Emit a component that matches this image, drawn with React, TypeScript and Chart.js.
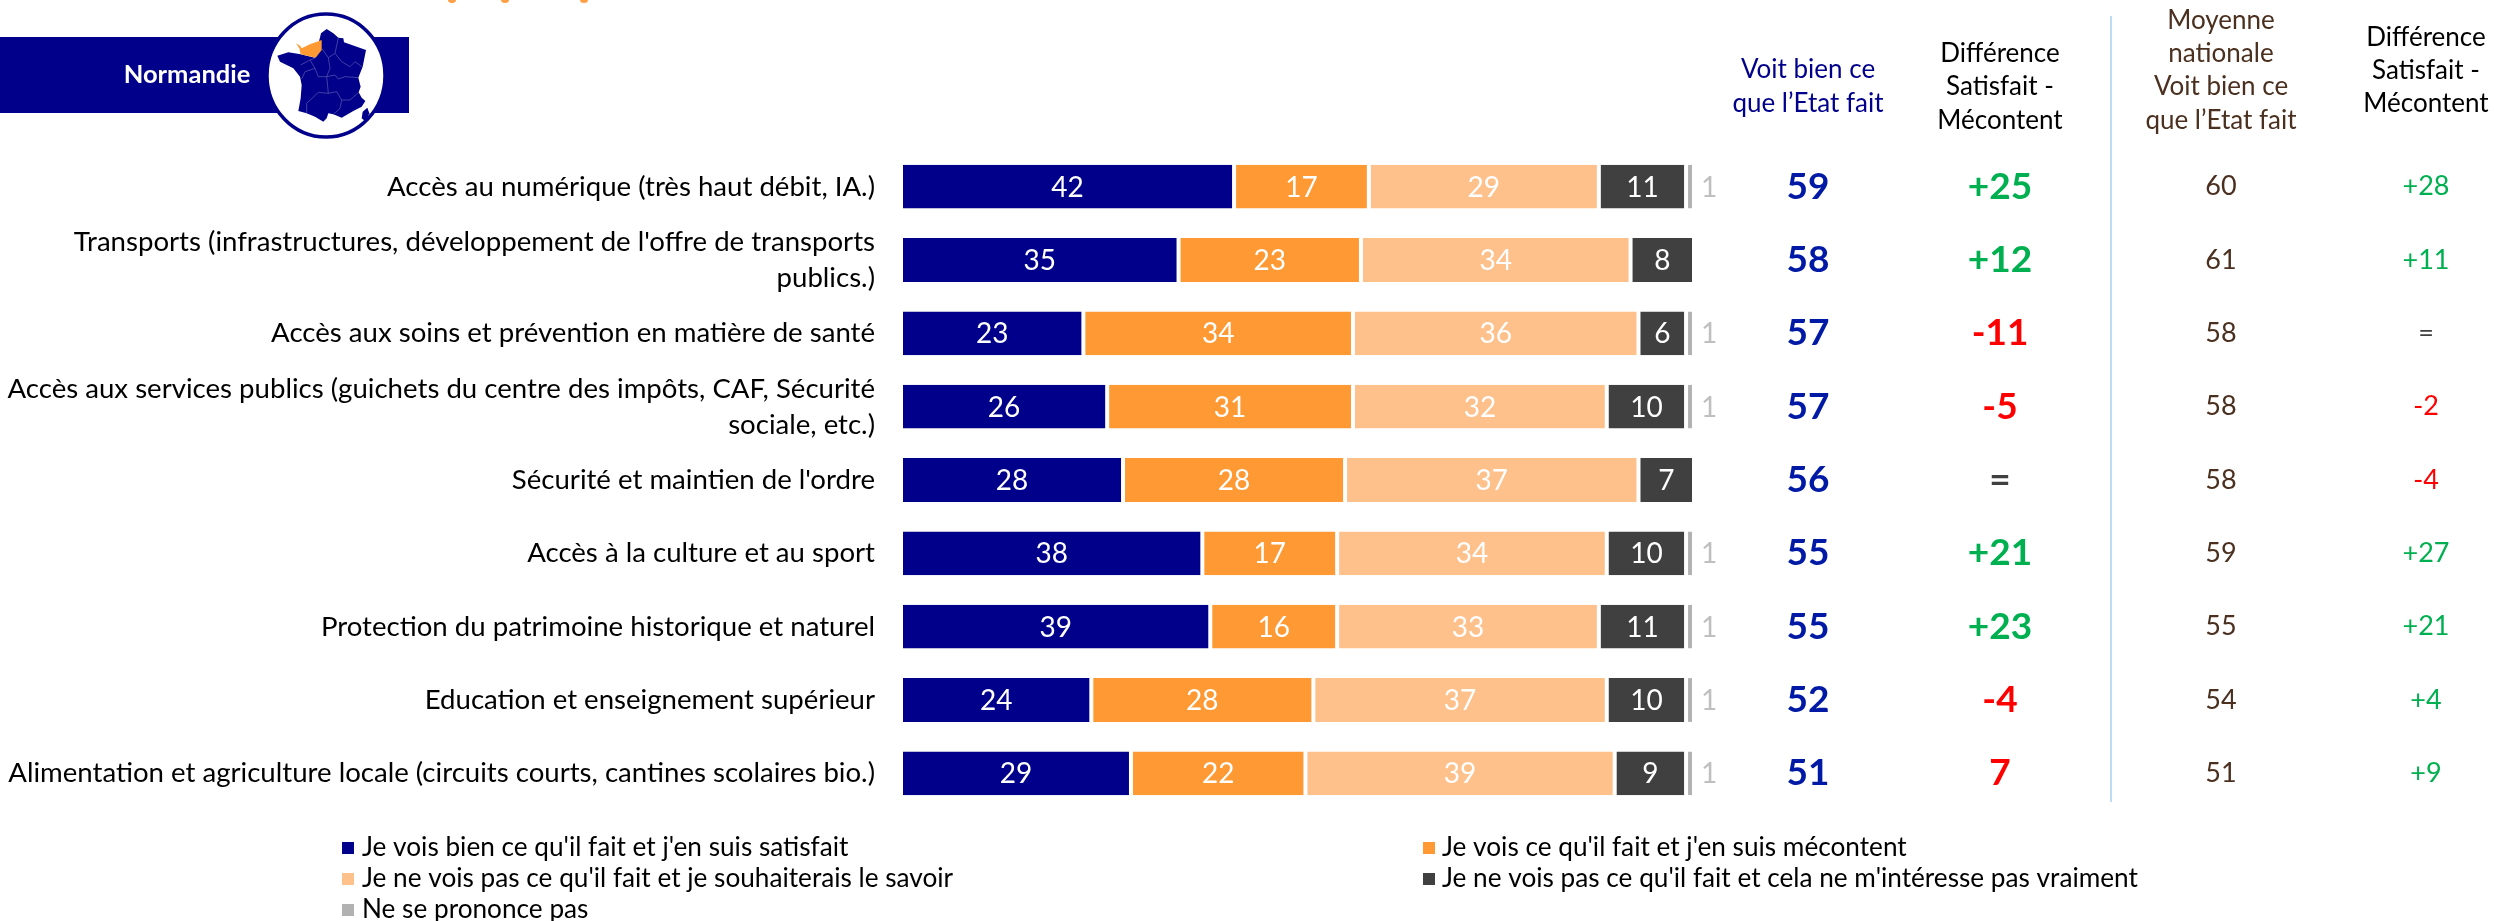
import React, { useEffect, useRef } from "react";
import { Chart, registerables } from "chart.js";

Chart.register(...registerables);

const FONT = "Lato, Carlito, sans-serif";

const categories: (string | string[])[] = [
  "Accès au numérique (très haut débit, IA.)",
  ["Transports (infrastructures, développement de l'offre de transports", "publics.)"],
  "Accès aux soins et prévention en matière de santé",
  ["Accès aux services publics (guichets du centre des impôts, CAF, Sécurité", "sociale, etc.)"],
  "Sécurité et maintien de l'ordre",
  "Accès à la culture et au sport",
  "Protection du patrimoine historique et naturel",
  "Education et enseignement supérieur",
  "Alimentation et agriculture locale (circuits courts, cantines scolaires bio.)",
];

const satisfied = [42, 35, 23, 26, 28, 38, 39, 24, 29];
const unhappy = [17, 23, 34, 31, 28, 17, 16, 28, 22];
const wantToKnow = [29, 34, 36, 32, 37, 34, 33, 37, 39];
const notInterested = [11, 8, 6, 10, 7, 10, 11, 10, 9];
const noOpinion = [1, null, 1, 1, null, 1, 1, 1, 1];

const seesWell = ["59", "58", "57", "57", "56", "55", "55", "52", "51"];
const difference = ["+25", "+12", "-11", "-5", "=", "+21", "+23", "-4", "7"];
const nationalSees = ["60", "61", "58", "58", "58", "59", "55", "54", "51"];
const nationalDiff = ["+28", "+11", "=", "-2", "-4", "+27", "+21", "+4", "+9"];

const seriesNames = [
  "Je vois bien ce qu'il fait et j'en suis satisfait",
  "Je vois ce qu'il fait et j'en suis mécontent",
  "Je ne vois pas ce qu'il fait et je souhaiterais le savoir",
  "Je ne vois pas ce qu'il fait et cela ne m'intéresse pas vraiment",
  "Ne se prononce pas",
];
const seriesColors = ["#00008B", "#FF9933", "#FFC18C", "#404040", "#B2B2B2"];

const headers = [
  { x: 1808, lines: ["Voit bien ce", "que l’Etat fait"], ys: [70, 104], color: "#00008B" },
  { x: 2000, lines: ["Différence", "Satisfait -", "Mécontent"], ys: [54, 87, 121], color: "#000000" },
  { x: 2221, lines: ["Moyenne", "nationale", "Voit bien ce", "que l’Etat fait"], ys: [21, 54, 87, 121], color: "#4B3020" },
  { x: 2426, lines: ["Différence", "Satisfait -", "Mécontent"], ys: [38, 71, 104], color: "#000000" },
];

const legendSlots = [
  { sx: 342, tx: 362, y: 848 },
  { sx: 1423, tx: 1442, y: 848 },
  { sx: 342, tx: 362, y: 879 },
  { sx: 1423, tx: 1442, y: 879 },
  { sx: 342, tx: 362, y: 910 },
];

// Regional logo outlines (decoration, zoom-space points mapped in drawLogo)
const franceOutline = [
  [183, 85], [200, 72], [220, 85], [235, 98], [250, 100], [252, 112], [318, 135], [308, 185], [295, 218],
  [302, 245], [296, 262], [305, 278], [316, 288], [305, 305], [280, 318], [245, 338], [220, 328], [205, 325],
  [200, 340], [190, 350], [165, 335], [140, 325], [115, 318], [122, 280], [125, 240], [120, 215], [100, 190],
  [60, 170], [52, 152], [85, 142], [122, 148], [165, 158],
];
const normandy = [[108, 115], [120, 122], [125, 130], [150, 118], [185, 105], [185, 135], [167, 158], [122, 148], [118, 130]];
const corsica = [[322, 308], [328, 325], [318, 350], [305, 340], [308, 320]];
const regionLines = [
  [[185, 130], [205, 158], [225, 145], [235, 98]],
  [[205, 158], [210, 190], [200, 215], [205, 265], [175, 262], [140, 295], [140, 325]],
  [[122, 180], [150, 165], [167, 158]],
  [[150, 165], [165, 190], [135, 200], [125, 222]],
  [[165, 190], [175, 215], [200, 215]],
  [[225, 145], [245, 170], [270, 185], [285, 170], [305, 185]],
  [[200, 215], [225, 210], [235, 222], [255, 215], [295, 218]],
  [[205, 265], [230, 260], [245, 285], [270, 285], [296, 262]],
  [[245, 285], [240, 310], [220, 328]],
];

function diffColor(v: string) {
  if (v === "=") return "#404040";
  if (v.startsWith("+")) return "#00B050";
  return "#FF0000";
}

function drawLogo(ctx: CanvasRenderingContext2D) {
  const mx = (p: number) => 260 + p / 3;
  const my = (p: number) => 5 + p / 3;
  const shape = (pts: number[][], color: string) => {
    ctx.beginPath();
    pts.forEach((p, i) => (i ? ctx.lineTo(mx(p[0]), my(p[1])) : ctx.moveTo(mx(p[0]), my(p[1]))));
    ctx.closePath();
    ctx.fillStyle = color;
    ctx.fill();
  };
  ctx.fillStyle = "#00008B";
  ctx.fillRect(0, 37, 409, 76);
  ctx.beginPath();
  ctx.ellipse(326, 75.5, 59, 61.5, 0, 0, Math.PI * 2);
  ctx.fillStyle = "#FFFFFF";
  ctx.fill();
  ctx.strokeStyle = "#00008B";
  ctx.lineWidth = 3.5;
  ctx.stroke();
  shape(franceOutline, "#00008B");
  shape(corsica, "#00008B");
  shape(normandy, "#FF9933");
  ctx.strokeStyle = "#5A5AB0";
  ctx.lineWidth = 0.7;
  regionLines.forEach((l) => {
    ctx.beginPath();
    l.forEach((p, i) => (i ? ctx.lineTo(mx(p[0]), my(p[1])) : ctx.moveTo(mx(p[0]), my(p[1]))));
    ctx.stroke();
  });
  ctx.fillStyle = "#FFFFFF";
  ctx.font = `bold 25.5px ${FONT}`;
  ctx.textAlign = "center";
  ctx.textBaseline = "middle";
  ctx.fillText("Normandie", 187, 75);
  // clipped remains of the cut-off title at the very top edge
  ctx.fillStyle = "#FF9F45";
  [452, 505, 584].forEach((x) => {
    ctx.beginPath();
    ctx.ellipse(x, 0, 4, 3, 0, 0, Math.PI * 2);
    ctx.fill();
  });
}

const overlay = {
  id: "overlay",
  afterDraw(chart: any) {
    const { ctx } = chart;
    ctx.save();
    drawLogo(ctx);
    ctx.textAlign = "center";
    ctx.textBaseline = "middle";

    // labels on the bars
    chart.data.datasets.forEach((ds: any, i: number) => {
      const meta = chart.getDatasetMeta(i);
      meta.data.forEach((bar: any, j: number) => {
        const v = ds.data[j];
        if (v == null) return;
        ctx.font = `28px ${FONT}`;
        if (i === 4) {
          ctx.fillStyle = "#BFBFBF";
          ctx.fillText(String(v), bar.x + 15, bar.y + 1);
        } else {
          ctx.fillStyle = "#FFFFFF";
          ctx.fillText(String(v), (bar.x + bar.base) / 2, bar.y + 1);
        }
      });
    });

    // headers
    ctx.font = `26px ${FONT}`;
    headers.forEach((h) => {
      ctx.fillStyle = h.color;
      h.lines.forEach((t, k) => ctx.fillText(t, h.x, h.ys[k]));
    });

    // divider
    ctx.strokeStyle = "#BDDDF2";
    ctx.lineWidth = 2;
    ctx.beginPath();
    ctx.moveTo(2111, 16);
    ctx.lineTo(2111, 802);
    ctx.stroke();

    // value columns, aligned with the rows of the category scale
    const yScale = chart.scales.y;
    categories.forEach((_, i) => {
      const y = yScale.getPixelForValue(i);
      ctx.font = `bold 37px ${FONT}`;
      ctx.fillStyle = "#001AA5";
      ctx.fillText(seesWell[i], headers[0].x, y);
      ctx.fillStyle = diffColor(difference[i]);
      ctx.fillText(difference[i], headers[1].x, y);
      ctx.font = `27px ${FONT}`;
      ctx.fillStyle = "#4B3020";
      ctx.fillText(nationalSees[i], headers[2].x, y);
      ctx.fillStyle = diffColor(nationalDiff[i]);
      ctx.fillText(nationalDiff[i], headers[3].x, y);
    });

    // legend
    ctx.textAlign = "left";
    ctx.font = `26.2px ${FONT}`;
    chart.data.datasets.forEach((ds: any, i: number) => {
      const s = legendSlots[i];
      ctx.fillStyle = ds.backgroundColor;
      ctx.fillRect(s.sx, s.y - 6, 12, 12);
      ctx.fillStyle = "#000000";
      ctx.fillText(ds.label, s.tx, s.y);
    });
    ctx.restore();
  },
};

export default function App() {
  const ref = useRef<HTMLCanvasElement>(null);
  useEffect(() => {
    document.body.style.margin = "0";
    document.body.style.overflow = "hidden";
    const values = [satisfied, unhappy, wantToKnow, notInterested, noOpinion];
    const chart = new Chart(ref.current!, {
      type: "bar",
      data: {
        labels: categories as any,
        datasets: values.map((data, i) => ({
          label: seriesNames[i],
          data,
          backgroundColor: seriesColors[i],
          borderColor: "#FFFFFF",
          borderWidth: { left: 2, right: 2, top: 0, bottom: 0 },
          borderSkipped: false,
          categoryPercentage: 1,
          barPercentage: 0.597,
        })),
      },
      options: {
        indexAxis: "y",
        responsive: false,
        animation: false,
        layout: { padding: { left: 0, top: 150, right: 800, bottom: 111 } },
        plugins: { legend: { display: false }, tooltip: { enabled: false } },
        scales: {
          x: { display: false, stacked: true, min: 0, max: 100 },
          y: {
            stacked: true,
            afterFit: (s: any) => { s.width = 901; },
            grid: { display: false, drawTicks: false },
            border: { display: false },
            ticks: {
              autoSkip: false,
              padding: 26,
              color: "#000000",
              font: { family: FONT, size: 27.6, lineHeight: 1.304 },
            },
          },
        },
      } as any,
      plugins: [overlay],
    });
    return () => chart.destroy();
  }, []);
  return <canvas ref={ref} width={2494} height={921} style={{ display: "block" }} />;
}
